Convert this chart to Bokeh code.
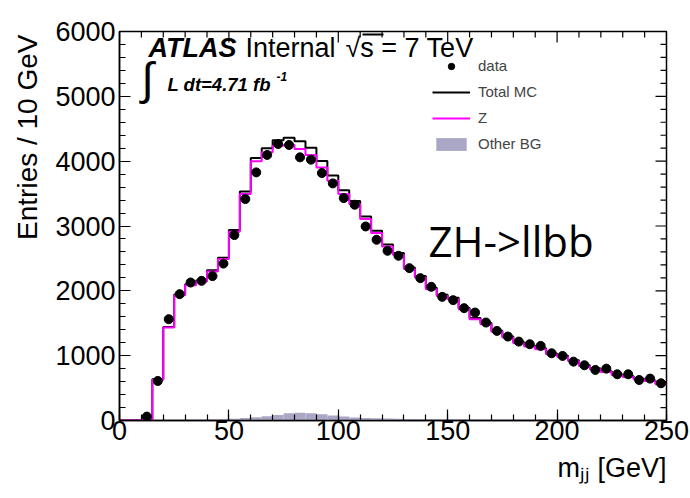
import math
from bokeh.plotting import figure
from bokeh.models import (Range1d, LinearAxis, SingleIntervalTicker, Label, Title,
                          Legend, LegendItem, BoxAnnotation, ColumnDataSource)
from bokeh.embed import file_html
from bokeh.resources import INLINE

# ---------------- data ----------------
bin_edges = list(range(0, 255, 5))  # 5 GeV bins, 0..250

z_counts = [0, 0, 15, 630, 1433, 1930, 2088, 2144, 2298, 2490,
            2911, 3493, 3997, 4136, 4239, 4250, 4188, 4096, 3904, 3699,
            3493, 3339, 3107, 2891, 2685, 2556, 2335, 2206, 2026, 1920,
            1872, 1717, 1563, 1486, 1367, 1279, 1192, 1140, 1100, 1022,
            985, 919, 842, 790, 749, 698, 672, 636, 610, 559]

other_bg = [0, 0, 2, 5, 10, 12, 14, 16, 18, 22,
            28, 38, 50, 65, 85, 110, 118, 112, 98, 78,
            60, 48, 40, 34, 30, 27, 25, 23, 22, 21,
            20, 19, 18, 17, 16, 16, 15, 14, 14, 13,
            12, 12, 11, 11, 10, 10, 9, 9, 8, 8]

total_mc = [0, 0, 17, 635, 1443, 1942, 2102, 2160, 2316, 2512,
            2939, 3531, 4047, 4201, 4324, 4360, 4306, 4208, 4002, 3777,
            3553, 3387, 3147, 2925, 2715, 2583, 2360, 2229, 2048, 1941,
            1892, 1736, 1581, 1503, 1383, 1295, 1207, 1154, 1114, 1035,
            997, 931, 853, 801, 759, 708, 681, 645, 618, 567]

data_counts = [None, None, 60, 610, 1563, 1949, 2128, 2154, 2227, 2420,
               2860, 3416, 3827, 4096, 4265, 4250, 4059, 4023, 3817, 3657,
               3431, 3328, 2993, 2788, 2618, 2541, 2350, 2196, 2062, 1907,
               1856, 1733, 1665, 1511, 1382, 1295, 1217, 1177, 1151, 1037,
               996, 908, 852, 780, 800, 713, 713, 625, 646, 574]

x_major_ticks = list(range(0, 251, 50))
x_minor_ticks = [v for v in range(0, 251, 10) if v % 50]
y_major_ticks = list(range(0, 6001, 1000))
y_minor_ticks = [v for v in range(0, 6001, 200) if v % 1000]

# ---------------- figure ----------------
FONT = "Liberation Sans"
X0, X1, Y0, Y1 = 0, 250, 0, 6000
FRAME_L, FRAME_T = 119, 31
FRAME_W, FRAME_H = 547, 389
FRAME_B = FRAME_T + FRAME_H

p = figure(width=690, height=498, output_backend="svg", toolbar_location=None,
           x_range=Range1d(X0, X1), y_range=Range1d(Y0, Y1),
           x_axis_location=None, y_axis_location=None,
           min_border_left=FRAME_L, min_border_right=24,
           min_border_top=FRAME_T, min_border_bottom=78)
p.grid.visible = False
p.outline_line_color = "black"
p.outline_line_width = 1.5
p.background_fill_color = "white"
p.border_fill_color = "white"


def make_axis(interval, standoff):
    ax = LinearAxis(ticker=SingleIntervalTicker(interval=interval, num_minor_ticks=5))
    ax.major_tick_in = 11
    ax.major_tick_out = 0
    ax.minor_tick_in = 6
    ax.minor_tick_out = 0
    ax.axis_line_width = 1.5
    ax.axis_line_color = "black"
    ax.major_tick_line_width = 1.2
    ax.minor_tick_line_width = 1.2
    ax.major_label_text_font = FONT
    ax.major_label_text_font_size = "27px"
    ax.major_label_text_color = "black"
    ax.major_label_standoff = standoff
    return ax


p.add_layout(make_axis(50, 0), "below")
p.add_layout(make_axis(1000, 4), "left")

# axis titles, right/top aligned as in the reference
p.add_layout(Title(text="m\u2c7c\u2c7c [GeV]", align="right", text_font=FONT,
                   text_font_size="27px", text_font_style="normal",
                   text_color="black", standoff=16), "below")
p.add_layout(Title(text="Entries / 10 GeV", align="right", text_font=FONT,
                   text_font_size="28px", text_font_style="normal",
                   text_color="black", standoff=19, offset=3), "left")

# inward ticks on the top and right edges of the frame
px_per_x = FRAME_W / (X1 - X0)
px_per_y = FRAME_H / (Y1 - Y0)
top_src = ColumnDataSource(dict(
    x=x_major_ticks + x_minor_ticks,
    y0=[Y1] * (len(x_major_ticks) + len(x_minor_ticks)),
    y1=[Y1 - 11 / px_per_y] * len(x_major_ticks) + [Y1 - 6 / px_per_y] * len(x_minor_ticks)))
p.segment(x0="x", x1="x", y0="y0", y1="y1", source=top_src,
          line_color="black", line_width=1.2)
right_src = ColumnDataSource(dict(
    y=y_major_ticks + y_minor_ticks,
    x0=[X1] * (len(y_major_ticks) + len(y_minor_ticks)),
    x1=[X1 - 11 / px_per_x] * len(y_major_ticks) + [X1 - 6 / px_per_x] * len(y_minor_ticks)))
p.segment(x0="x0", x1="x1", y0="y", y1="y", source=right_src,
          line_color="black", line_width=1.2)

# ---------------- histograms ----------------
lefts = bin_edges[:-1]
rights = bin_edges[1:]
bg_src = ColumnDataSource(dict(left=lefts, right=rights, top=other_bg,
                               bottom=[0] * len(other_bg)))
r_bg = p.quad(left="left", right="right", top="top", bottom="bottom", source=bg_src,
              fill_color="#aaa6c6", line_color=None)

r_tot = p.step(x=bin_edges, y=total_mc + [total_mc[-1]], mode="after",
               line_color="black", line_width=2)
r_z = p.step(x=bin_edges, y=z_counts + [z_counts[-1]], mode="after",
             line_color="#ff00ff", line_width=2)

centers = [(a + b) / 2 for a, b in zip(lefts, rights)]
dx = [c for c, v in zip(centers, data_counts) if v is not None]
dy = [v for v in data_counts if v is not None]
r_data = p.scatter(x=dx, y=dy, size=9, marker="circle", fill_color="black",
                   line_color="black")

# ---------------- legend ----------------
legend = Legend(items=[LegendItem(label="data", renderers=[r_data]),
                       LegendItem(label="Total MC", renderers=[r_tot]),
                       LegendItem(label="Z", renderers=[r_z]),
                       LegendItem(label="Other BG", renderers=[r_bg])],
                location=(313, 268), orientation="vertical")
legend.label_text_font = FONT
legend.label_text_font_size = "15px"
legend.glyph_width = 38
legend.glyph_height = 16
legend.label_height = 16
legend.spacing = 9
legend.padding = 0
legend.margin = 0
legend.label_standoff = 8
legend.background_fill_alpha = 0
legend.border_line_alpha = 0
p.add_layout(legend, "center")

# ---------------- texts ----------------
def px_x(px):
    return (px - FRAME_L) / px_per_x


def px_y(py):
    return (FRAME_B - py) / px_per_y


def lab(text, x, y, size_px, style="normal", font=FONT, align="left"):
    # y is the wanted baseline in page pixels; Bokeh sets text slightly low, compensate
    yy = y - 0.37 * size_px
    p.add_layout(Label(x=px_x(x), y=px_y(yy), text=text, text_font=font,
                       text_font_size=f"{size_px}px", text_font_style=style,
                       text_color="black", text_align=align,
                       text_baseline="alphabetic"))


lab("ATLAS", 148, 57, 27, "bold italic")
lab("Internal", 245, 57, 27)
lab("\u221as = 7 TeV", 345, 57, 27)
p.add_layout(BoxAnnotation(left=px_x(362), right=px_x(383), top=px_y(33),
                           bottom=px_y(35), fill_color="black", fill_alpha=1,
                           line_alpha=0))
lab("\u222b", 141, 95, 45, "italic")
lab("L dt=4.71 fb", 167, 91, 18.5, "bold italic")
lab("-1", 276, 80, 12, "bold italic")

lab("ZH->llbb", 428, 256, 42, font="Open Sans")

open("out.html", "w").write(file_html(p, INLINE))
